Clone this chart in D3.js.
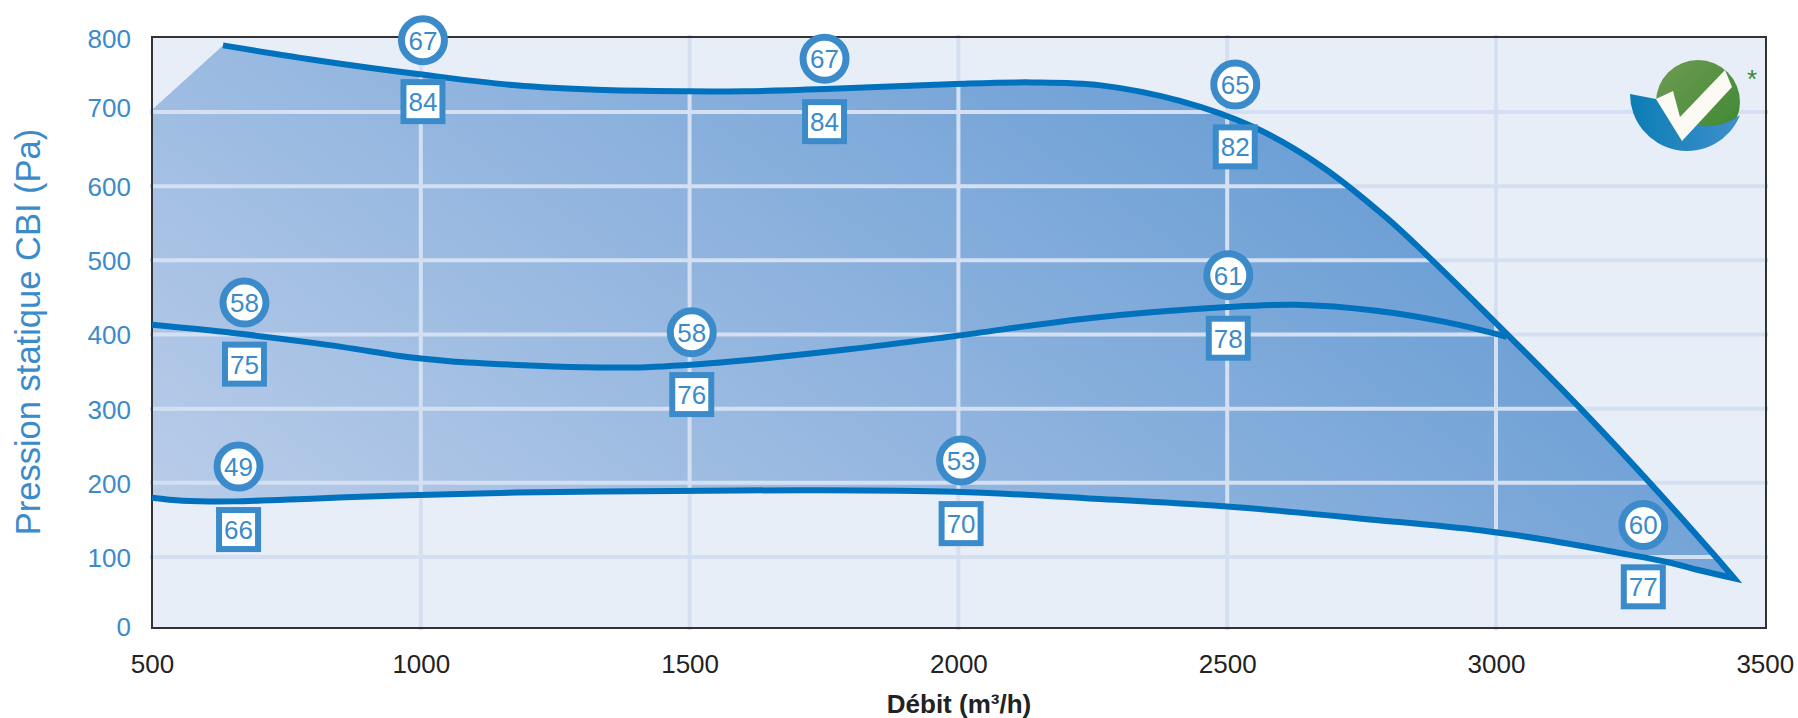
<!DOCTYPE html>
<html lang="fr">
<head>
<meta charset="utf-8">
<title>Pression statique CBI</title>
<script src="https://cdn.jsdelivr.net/npm/d3@7"></script>
<style>
  html, body { margin: 0; background: #fff; }
  svg { display: block; font-family: "Liberation Sans", Arial, sans-serif; }
</style>
</head>
<body>
<svg id="svg" width="1798" height="718"></svg>
<script>
// curves: [debit m3/h, pression Pa]
const topCurve = [[632,790],[815,769],[998,751],[1177,736],[1327,730],[1497,728],[1604,728],[1753,731],[1994,738],[2137,740],[2265,736],[2412,715],[2548,680],[2673,628],[2797,557],[2877,503],[2970,437],[3156,301],[3286,200],[3403,105],[3443,70]];
const midCurve = [[500,413],[651,402],[807,388],[918,376],[961,371],[1054,364],[1179,359],[1302,356],[1420,356],[1583,364],[1796,380],[1994,398],[2243,422],[2500,437],[2628,440],[2777,432],[2905,417],[3020,397]];
const lowCurve = [[500,180],[557,176],[651,175],[807,179],[961,183],[1179,187],[1469,189],[1710,190],[1994,188],[2243,179],[2500,168],[2777,150],[2970,136],[3095,123],[3218,107],[3318,93],[3374,82],[3443,70]];
const areaStart = [500,703];

// noise level badges
const badgeFlow = [1004,1751,2515,672,1504,2502,661,2005,3274];
const circleP   = [797,772,737,443,403,480,222,230,143];
const squareP   = [714,687,653,360,319,395,137,145,58];
const circleVal = [67,67,65,58,58,61,49,53,60];
const squareVal = [84,84,82,75,76,78,66,70,77];

const xTicks = [500,1000,1500,2000,2500,3000,3500];
const yTicks = [0,100,200,300,400,500,600,700,800];

const blue = "#3b8bcb";
const lineBlue = "#0071bc";
const gridCol = "#d4e0f2";

const svg = d3.select("#svg");
const frameL = 152, frameR = 1766, frameT = 37, frameB = 628;

const x = d3.scaleLinear().domain([500, 3000]).range([frameL, 1496]);
// the bottom band of the printed chart is a bit squeezed, hence the extra stop
const y = d3.scaleLinear().domain([0, 100, 700, 800]).range([frameB, 557, 112, 38]);

const defs = svg.append("defs");
const grad = defs.append("linearGradient")
  .attr("id", "areaFill")
  .attr("gradientUnits", "userSpaceOnUse")
  .attr("x1", 160).attr("y1", 500)
  .attr("x2", 719).attr("y2", -289);
grad.append("stop").attr("offset", 0).attr("stop-color", "#b9cce9");
grad.append("stop").attr("offset", 1).attr("stop-color", "#6c9fd5");

const logoBlue = defs.append("linearGradient").attr("id", "logoBlue");
logoBlue.append("stop").attr("offset", 0).attr("stop-color", "#0b7db4");
logoBlue.append("stop").attr("offset", 1).attr("stop-color", "#3f90cc");

const logoGreen = defs.append("linearGradient").attr("id", "logoGreen")
  .attr("x1", 0).attr("y1", 0).attr("x2", 1).attr("y2", 1);
logoGreen.append("stop").attr("offset", 0).attr("stop-color", "#6f9b52");
logoGreen.append("stop").attr("offset", 1).attr("stop-color", "#3c8732");

// background
svg.append("rect")
  .attr("x", frameL).attr("y", frameT)
  .attr("width", frameR - frameL).attr("height", frameB - frameT)
  .attr("fill", "#e7eef8");

// area between top and bottom curves
const line = d3.line().x(d => x(d[0])).y(d => y(d[1])).curve(d3.curveCatmullRom.alpha(0.5));
const topPath = line(topCurve);
const lowBack = line(lowCurve.slice().reverse());
svg.append("path")
  .attr("d", `M${x(areaStart[0])},${y(areaStart[1])}L` + topPath.slice(1) + "L" + lowBack.slice(1) + "Z")
  .attr("fill", "url(#areaFill)");

// grid
svg.append("g").selectAll("line")
  .data(xTicks.slice(1, -1))
  .join("line")
  .attr("x1", d => x(d)).attr("x2", d => x(d))
  .attr("y1", frameT - 2).attr("y2", frameB + 2)
  .attr("stroke", gridCol).attr("stroke-width", 4);
svg.append("g").selectAll("line")
  .data(yTicks.slice(1, -1))
  .join("line")
  .attr("x1", frameL - 2).attr("x2", frameR + 2)
  .attr("y1", d => y(d)).attr("y2", d => y(d))
  .attr("stroke", gridCol).attr("stroke-width", 4);

// frame
svg.append("rect")
  .attr("x", frameL).attr("y", frameT)
  .attr("width", frameR - frameL).attr("height", frameB - frameT)
  .attr("fill", "none")
  .attr("stroke", "#333").attr("stroke-width", 2);

// axes, only labels are visible
const xAxis = svg.append("g")
  .attr("transform", `translate(0,${frameB})`)
  .call(d3.axisBottom(x).tickValues(xTicks).tickSize(0).tickPadding(0).tickFormat(d3.format("d")));
xAxis.select(".domain").remove();
xAxis.selectAll("text")
  .attr("y", 45).attr("dy", 0)
  .attr("font-size", 26).attr("font-family", "Liberation Sans")
  .attr("fill", "#222");

const yAxis = svg.append("g")
  .attr("transform", `translate(${frameL},0)`)
  .call(d3.axisLeft(y).tickValues(yTicks).tickSize(0).tickPadding(21).tickFormat(d3.format("d")));
yAxis.select(".domain").remove();
yAxis.selectAll("text")
  .attr("font-size", 26).attr("font-family", "Liberation Sans")
  .attr("fill", blue)
  .attr("dy", "0.36em");
yAxis.selectAll("text").filter(d => d === 700).attr("dy", "0.17em");
yAxis.selectAll("text").filter(d => d === 0).attr("dy", "0.28em");

svg.append("text")
  .attr("transform", "translate(40,332) rotate(-90)")
  .attr("text-anchor", "middle")
  .attr("font-size", 34.5)
  .attr("fill", blue)
  .text("Pression statique CBI (Pa)");

const xLabel = svg.append("text")
  .attr("x", 959).attr("y", 713)
  .attr("text-anchor", "middle")
  .attr("font-size", 26).attr("font-weight", 700)
  .attr("fill", "#222");
xLabel.append("tspan").text("Débit (m³/h)");

// curves, top and low joined so the tip gets a sharp miter
svg.append("path")
  .attr("d", topPath + "L" + lowBack.slice(1))
  .attr("fill", "none")
  .attr("stroke", lineBlue).attr("stroke-width", 6)
  .attr("stroke-linejoin", "miter").attr("stroke-miterlimit", 20);
svg.append("path")
  .attr("d", line(midCurve))
  .attr("fill", "none")
  .attr("stroke", lineBlue).attr("stroke-width", 6);

// badges
const badges = badgeFlow.map((f, i) => ({ f, c: circleP[i], s: squareP[i], cv: circleVal[i], sv: squareVal[i] }));
const badge = svg.append("g").selectAll("g").data(badges).join("g");
badge.append("circle")
  .attr("cx", d => x(d.f)).attr("cy", d => y(d.c))
  .attr("r", 21.5)
  .attr("fill", "#fff").attr("stroke", blue).attr("stroke-width", 7);
badge.append("text")
  .attr("x", d => x(d.f)).attr("y", d => y(d.c))
  .attr("dy", "0.36em").attr("text-anchor", "middle")
  .attr("font-size", 26).attr("fill", blue)
  .text(d => d.cv);
badge.append("rect")
  .attr("x", d => x(d.f) - 19.5).attr("y", d => y(d.s) - 19.5)
  .attr("width", 39).attr("height", 39)
  .attr("fill", "#fff").attr("stroke", blue).attr("stroke-width", 6);
badge.append("text")
  .attr("x", d => x(d.f)).attr("y", d => y(d.s))
  .attr("dy", "0.36em").attr("text-anchor", "middle")
  .attr("font-size", 26).attr("fill", blue)
  .text(d => d.sv);

// logo
const logo = svg.append("g");
logo.append("circle").attr("cx", 1698).attr("cy", 102).attr("r", 42).attr("fill", "url(#logoGreen)");
logo.append("path")
  .attr("d", "M1630,94L1656,99L1682,141L1693,125C1710,128 1725,126 1740,115A57,57 0 0 1 1630,94Z")
  .attr("fill", "url(#logoBlue)");
logo.append("path")
  .attr("d", "M1656,99L1673,91L1680,117L1725,70L1732,87L1682,141Z")
  .attr("fill", "#fbfbf4");
logo.append("text")
  .attr("x", 1752).attr("y", 88)
  .attr("text-anchor", "middle")
  .attr("font-size", 26)
  .attr("fill", "#3c8732")
  .text("*");
</script>
</body>
</html>
